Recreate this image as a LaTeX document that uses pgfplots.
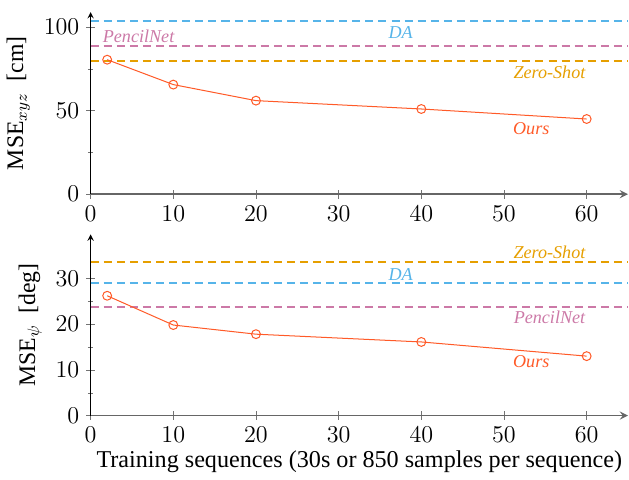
\documentclass[border=0pt]{standalone}
\usepackage{fontspec}
\setmainfont{Liberation Serif}
\usepackage{pgfplots}
\pgfplotsset{compat=1.18}
\usetikzlibrary{calc}
\definecolor{cDA}{HTML}{56B4E9}
\definecolor{cPN}{HTML}{CC79A7}
\definecolor{cZS}{HTML}{E69F00}
\definecolor{cOurs}{HTML}{FF5A28}
\tikzset{lbl/.style={font=\small\itshape}}
\pgfplotsset{
  mse/.style={
    scale only axis,
    width=267pt,
    axis lines=left,
    xmin=0, xmax=65,
    ymin=0,
    xtick={0,10,...,60},
    minor y tick num=1,
    tick align=center,
    tick style={black!55},
    x axis line style={draw=black!60, line width=0.8pt},
    y axis line style={draw=black},
    ticklabel style={font=\large},
    xlabel style={font=\large, yshift=3pt},
    ylabel style={font=\fontsize{11.8}{14}\selectfont},
    clip=false,
  },
  base/.style={dashed, dash pattern=on 4pt off 2.5pt, line width=1pt, no marks},
  ours/.style={cOurs, line width=0.5pt, mark=o, mark size=2.2pt},
}
\begin{document}
\begin{tikzpicture}
\begin{axis}[mse, name=top, height=90.5pt, ymax=109,
    ytick={0,50,100},
    ylabel={MSE$_{xyz}$~~[cm]}]
\addplot[base, cDA] coordinates {(0,103.8) (65,103.8)};
\addplot[base, cPN] coordinates {(0,88.5) (65,88.5)};
\addplot[base, cZS] coordinates {(0,80) (65,80)};
\addplot[ours] coordinates {(2,80.5) (10,65.6) (20,56) (40,51) (60,45)};
\node[lbl, cDA] at (axis cs:37.5,97) {DA};
\node[lbl, cPN] at (axis cs:5.8,94.5) {PencilNet};
\node[lbl, cZS] at (axis cs:55.5,73) {Zero-Shot};
\node[lbl, cOurs] at (axis cs:53.3,39.3) {Ours};
\end{axis}
\path ($(top.north west)+(0,6pt)$) coordinate (pad);
\begin{axis}[mse, at={($(top.south west)+(0,-20pt)$)}, anchor=north west,
    height=90pt, ymax=39.6,
    ytick={0,10,20,30},
    ylabel={MSE$_{\psi}$~~[deg]},
    xlabel={Training sequences (30s or 850 samples per sequence)}]
\addplot[base, cZS] coordinates {(0,33.5) (65,33.5)};
\addplot[base, cDA] coordinates {(0,28.9) (65,28.9)};
\addplot[base, cPN] coordinates {(0,23.7) (65,23.7)};
\addplot[ours] coordinates {(2,26.2) (10,19.8) (20,17.8) (40,16.1) (60,13.0)};
\node[lbl, cZS] at (axis cs:55.5,35.8) {Zero-Shot};
\node[lbl, cDA] at (axis cs:37.5,30.8) {DA};
\node[lbl, cPN] at (axis cs:55.5,21.4) {PencilNet};
\node[lbl, cOurs] at (axis cs:53.3,11.9) {Ours};
\end{axis}
\end{tikzpicture}
\end{document}
